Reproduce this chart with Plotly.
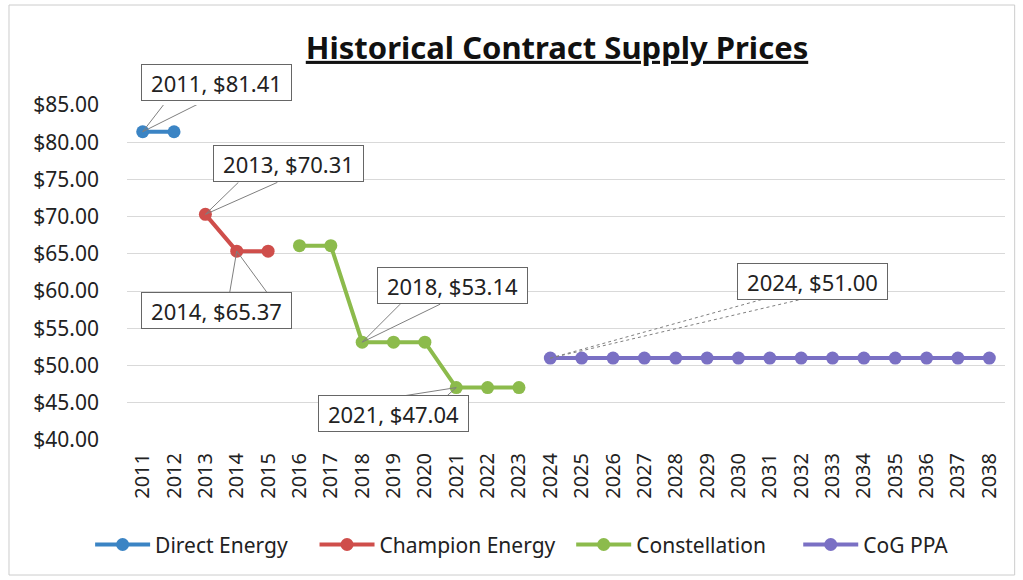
import plotly.graph_objects as go

years = list(range(2011, 2039))
direct_years = [2011, 2012]
direct_vals = [81.41, 81.41]
champ_years = [2013, 2014, 2015]
champ_vals = [70.31, 65.37, 65.37]
const_years = [2016, 2017, 2018, 2019, 2020, 2021, 2022, 2023]
const_vals = [66.10, 66.10, 53.14, 53.14, 53.14, 47.04, 47.04, 47.04]
cog_years = list(range(2024, 2039))
cog_vals = [51.00] * len(cog_years)

y_ticks = [40, 45, 50, 55, 60, 65, 70, 75, 80, 85]
y_labels = ["$%.2f" % v for v in y_ticks]

FONT = "Noto Sans"
NB = "\u00a0"
series = [
    ("Direct Energy", direct_years, direct_vals, "#3b84c4", 4),
    ("Champion Energy", champ_years, champ_vals, "#cf4e4b", 2),
    ("Constellation", const_years, const_vals, "#8cbb4c", 5),
    ("CoG PPA", cog_years, cog_vals, "#7a70c4", 0),
]

fig = go.Figure()
for name, xs, ys, col, pad in series:
    fig.add_trace(go.Scatter(x=xs, y=ys, name=name + NB * pad, mode="lines+markers",
                             line=dict(color=col, width=4),
                             marker=dict(color=col, size=13)))

# callout labels: (year, value, box shift x, box shift y, wedge base points, dashed)
callouts = [
    (2011, 81.41, 74, 49, [(24, 31), (62, 31)], False),
    (2013, 70.31, 83, 51, [(33, 32), (72, 32)], False),
    (2014, 65.37, -20, -59, [(-7, -41), (30, -41)], False),
    (2018, 53.14, 90, 57, [(38, 38), (78, 38)], False),
    (2021, 47.04, -63, -26, [(-51, -8), (-9, -8)], False),
    (2024, 51.00, 262, 77, [(213, 59), (252, 59)], True),
]
shapes = []
annotations = []
for yr, val, sx, sy, base, dashed in callouts:
    for bx, by in base:
        shapes.append(dict(type="line", xref="x", yref="y", xsizemode="pixel", ysizemode="pixel",
                           xanchor=yr, yanchor=val, x0=0, y0=0, x1=bx, y1=by,
                           line=dict(color="#7f7f7f", width=1, dash="dot" if dashed else "solid"),
                           layer="above"))
    annotations.append(dict(x=yr, y=val, xref="x", yref="y", showarrow=False,
                            xshift=sx, yshift=sy, text="%d, $%.2f" % (yr, val),
                            font=dict(family=FONT, size=22, color="#222222"),
                            bgcolor="white", bordercolor="#666666", borderwidth=1,
                            borderpad=3, width=143, height=29))

# outer frame
shapes.append(dict(type="rect", xref="paper", yref="paper", x0=-0.1344, x1=1.011, y0=-0.403, y1=1.2985,
                   line=dict(color="#cccccc", width=1), layer="below"))

fig.update_layout(
    width=1023, height=580,
    margin=dict(l=127, r=18, t=105, b=140),
    paper_bgcolor="white", plot_bgcolor="white",
    font=dict(family=FONT, size=21, color="#222222"),
    title=dict(text="<b><u>Historical Contract Supply Prices</u></b>",
               x=557 / 1023, xanchor="center", xref="container",
               y=1 - 48 / 580, yanchor="middle", yref="container",
               font=dict(family=FONT, size=31, color="#111111")),
    xaxis=dict(range=[2010.5, 2038.5], tickmode="array", tickvals=years,
               ticktext=[str(y) for y in years], tickangle=-90,
               showgrid=False, zeroline=False, showline=False,
               tickfont=dict(size=20), ticklabelstandoff=8),
    yaxis=dict(range=[40, 85], tickmode="array", tickvals=y_ticks, ticktext=y_labels,
               showgrid=True, gridcolor="#d9d9d9", gridwidth=1, zeroline=False,
               showline=False, tickfont=dict(size=21), ticklabelstandoff=27),
    legend=dict(orientation="h", x=-0.042, xanchor="left", y=-0.313, yanchor="middle",
                font=dict(size=21), itemwidth=55, bgcolor="rgba(0,0,0,0)"),
    shapes=shapes,
    annotations=annotations,
)

fig.write_html("out.html")
